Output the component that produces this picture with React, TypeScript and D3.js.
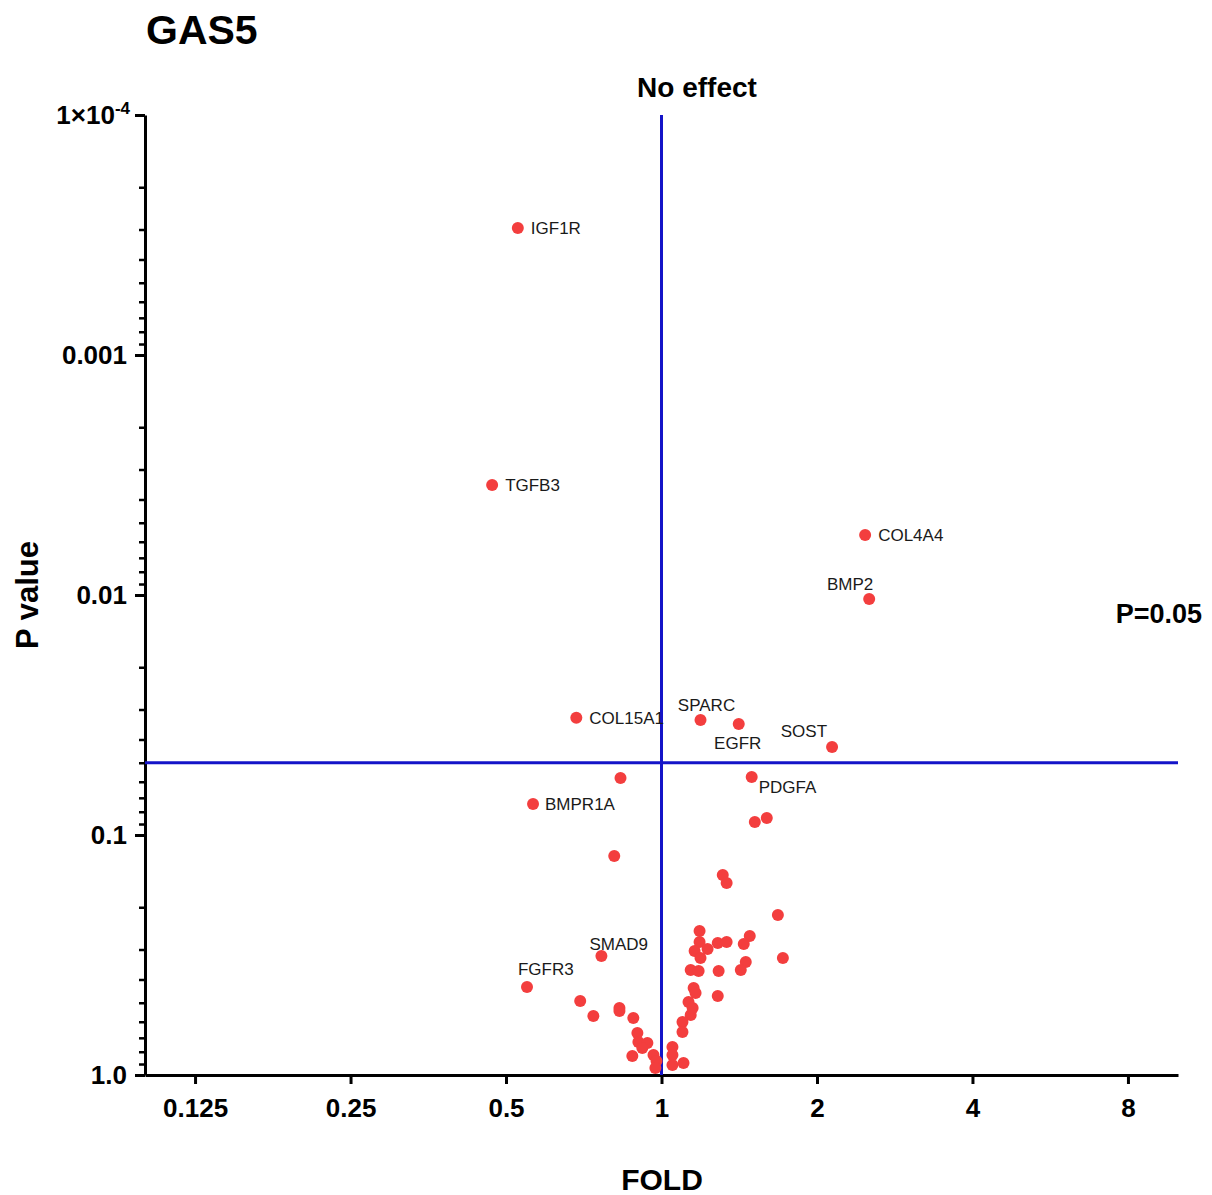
import { useRef, useEffect } from "react";
import * as d3 from "d3";

// Gene fold change vs P value
const genes = [
  "IGF1R", "TGFB3", "COL4A4", "BMP2", "COL15A1", "SPARC", "EGFR", "SOST", "PDGFA", "",
  "BMPR1A", "", "", "", "", "", "", "", "", "",
  "", "", "", "", "", "", "", "", "SMAD9", "",
  "", "", "", "FGFR3", "", "", "", "", "", "",
  "", "", "", "", "", "", "", "", "", "",
  "", "", "", "", "", "", "", "", "",
];
const fold = [
  0.527, 0.470, 2.479, 2.524, 0.684, 1.190, 1.411, 2.139, 1.495, 0.833,
  0.564, 1.516, 1.599, 0.810, 1.314, 1.337, 1.680, 1.185, 1.482, 1.285,
  1.337, 1.443, 1.185, 1.159, 1.228, 1.190, 1.718, 1.456, 0.765, 1.424,
  1.290, 1.139, 1.180, 0.549, 1.154, 1.164, 1.285, 1.128, 1.139, 1.098,
  1.098, 1.050, 1.050, 1.050, 1.103, 0.696, 0.738, 0.829, 0.829, 0.882,
  0.898, 0.902, 0.939, 0.918, 0.878, 0.965, 0.978, 0.973, 1.149,
];
const pValue = [
  0.000296, 0.00348, 0.00562, 0.0104, 0.0325, 0.0332, 0.0345, 0.0430, 0.0573, 0.0579,
  0.0743, 0.0883, 0.0850, 0.1224, 0.1468, 0.1585, 0.2154, 0.2512, 0.2635, 0.2818,
  0.2791, 0.2846, 0.2791, 0.3043, 0.2985, 0.3255, 0.3255, 0.3381, 0.3192, 0.3652,
  0.3687, 0.3652, 0.3687, 0.4300, 0.4341, 0.4555, 0.4688, 0.4965, 0.5623, 0.6013,
  0.6618, 0.7647, 0.8254, 0.9085, 0.8913, 0.4917, 0.5676, 0.5258, 0.5412, 0.5786,
  0.6683, 0.7286, 0.7356, 0.7720, 0.8333, 0.8254, 0.8743, 0.9351, 0.5258,
];

const xTicks = [0.125, 0.25, 0.5, 1, 2, 4, 8];
const yTicks = [1e-4, 0.001, 0.01, 0.1, 1];
const yTickLabels = ["1×10", "0.001", "0.01", "0.1", "1.0"];
const noEffectFold = 1;
const pThreshold = 0.05;

// label placement: [dx, dy, anchor]
const labelPlace: Record<string, [number, number, string]> = {
  IGF1R: [13, 6, "start"],
  TGFB3: [13, 6, "start"],
  COL4A4: [13, 6, "start"],
  COL15A1: [13, 6, "start"],
  BMPR1A: [12, 6, "start"],
  BMP2: [4, -9, "end"],
  SPARC: [6, -9, "middle"],
  EGFR: [-1, 25, "middle"],
  SOST: [-5, -10, "end"],
  PDGFA: [7, 16, "start"],
  SMAD9: [-12, -6, "start"],
  FGFR3: [-9, -12, "start"],
};

export default function App() {
  const svgRef = useRef<SVGSVGElement>(null);

  useEffect(() => {
    if (!svgRef.current) return;
    const width = 1212;
    const height = 1195;
    const left = 145, right = 1178, top = 115, bottom = 1075;

    d3.select(svgRef.current).selectAll("*").remove();
    const svg = d3.select(svgRef.current)
      .attr("width", width)
      .attr("height", height)
      .style("font-family", "'Liberation Sans', Arial, sans-serif");

    const x = d3.scaleLog().base(2).domain([0.1, 10]).range([left, right]);
    const y = d3.scaleLog().domain([1, 1e-4]).range([bottom, top]);

    // minor y ticks
    const minor: number[] = [];
    [1e-4, 1e-3, 1e-2, 1e-1].forEach(d => {
      for (let m = 2; m <= 9; m++) minor.push(d * m);
    });

    svg.append("g")
      .attr("transform", `translate(${left},0)`)
      .call(d3.axisLeft(y).tickValues(minor).tickSize(6).tickFormat(() => ""))
      .call(g => g.select(".domain").remove())
      .selectAll("line").attr("stroke", "#000").attr("stroke-width", 2.5);

    const yAxis = svg.append("g")
      .attr("transform", `translate(${left},0)`)
      .call(d3.axisLeft(y).tickValues(yTicks).tickSize(10).tickSizeOuter(0).tickFormat(() => ""));
    yAxis.select(".domain").attr("stroke", "#000").attr("stroke-width", 3);
    yAxis.selectAll("line").attr("stroke", "#000").attr("stroke-width", 3);

    yTicks.forEach((v, i) => {
      const t = svg.append("text")
        .attr("x", left - 18)
        .attr("y", y(v) + 9)
        .attr("text-anchor", "end")
        .style("font-size", "26px")
        .style("font-weight", "bold")
        .text(yTickLabels[i]);
      if (i === 0) {
        t.attr("x", left - 15);
        t.append("tspan")
          .attr("dy", -10)
          .style("font-size", "17px")
          .text("-4");
      }
    });

    const xAxis = svg.append("g")
      .attr("transform", `translate(0,${bottom})`)
      .call(d3.axisBottom(x).tickValues(xTicks).tickSize(9).tickSizeOuter(0).tickFormat(d => String(d)));
    xAxis.select(".domain").attr("stroke", "#000").attr("stroke-width", 3);
    xAxis.selectAll("line").attr("stroke", "#000").attr("stroke-width", 3);
    xAxis.selectAll("text")
      .attr("y", 24)
      .attr("dy", "0.71em")
      .attr("fill", "#000")
      .style("font-size", "26px")
      .style("font-weight", "bold")
      .style("font-family", "'Liberation Sans', Arial, sans-serif");

    // reference lines
    svg.append("line")
      .attr("x1", x(noEffectFold)).attr("x2", x(noEffectFold))
      .attr("y1", top).attr("y2", bottom)
      .attr("stroke", "#1414c8").attr("stroke-width", 3);
    svg.append("line")
      .attr("x1", left).attr("x2", right)
      .attr("y1", y(pThreshold)).attr("y2", y(pThreshold))
      .attr("stroke", "#1414c8").attr("stroke-width", 3);

    const data = fold.map((f, i) => ({ f, p: pValue[i], name: genes[i] }));

    svg.append("g")
      .selectAll("circle")
      .data(data)
      .join("circle")
      .attr("cx", d => x(d.f))
      .attr("cy", d => y(d.p))
      .attr("r", 6)
      .attr("fill", "#f33e3e");

    svg.append("g")
      .selectAll("text")
      .data(data.filter(d => d.name))
      .join("text")
      .attr("x", d => x(d.f) + labelPlace[d.name][0])
      .attr("y", d => y(d.p) + labelPlace[d.name][1])
      .attr("text-anchor", d => labelPlace[d.name][2])
      .style("font-size", "17px")
      .attr("fill", "#1a1a1a")
      .text(d => d.name);

    // titles
    svg.append("text")
      .attr("x", 146).attr("y", 44)
      .style("font-size", "41px").style("font-weight", "bold")
      .text("GAS5");
    svg.append("text")
      .attr("x", 697).attr("y", 97)
      .attr("text-anchor", "middle")
      .style("font-size", "28px").style("font-weight", "bold")
      .text("No effect");
    svg.append("text")
      .attr("x", 1202).attr("y", 623)
      .attr("text-anchor", "end")
      .style("font-size", "27px").style("font-weight", "bold")
      .text("P=0.05");
    svg.append("text")
      .attr("x", 662).attr("y", 1190)
      .attr("text-anchor", "middle")
      .style("font-size", "30px").style("font-weight", "bold")
      .text("FOLD");
    svg.append("text")
      .attr("transform", "rotate(-90)")
      .attr("x", -595).attr("y", 38)
      .attr("text-anchor", "middle")
      .style("font-size", "31px").style("font-weight", "bold")
      .text("P value");
  }, []);

  return (
    <div style={{ position: "absolute", left: 0, top: 0 }}>
      <svg ref={svgRef} style={{ display: "block", background: "#fff" }} />
    </div>
  );
}
